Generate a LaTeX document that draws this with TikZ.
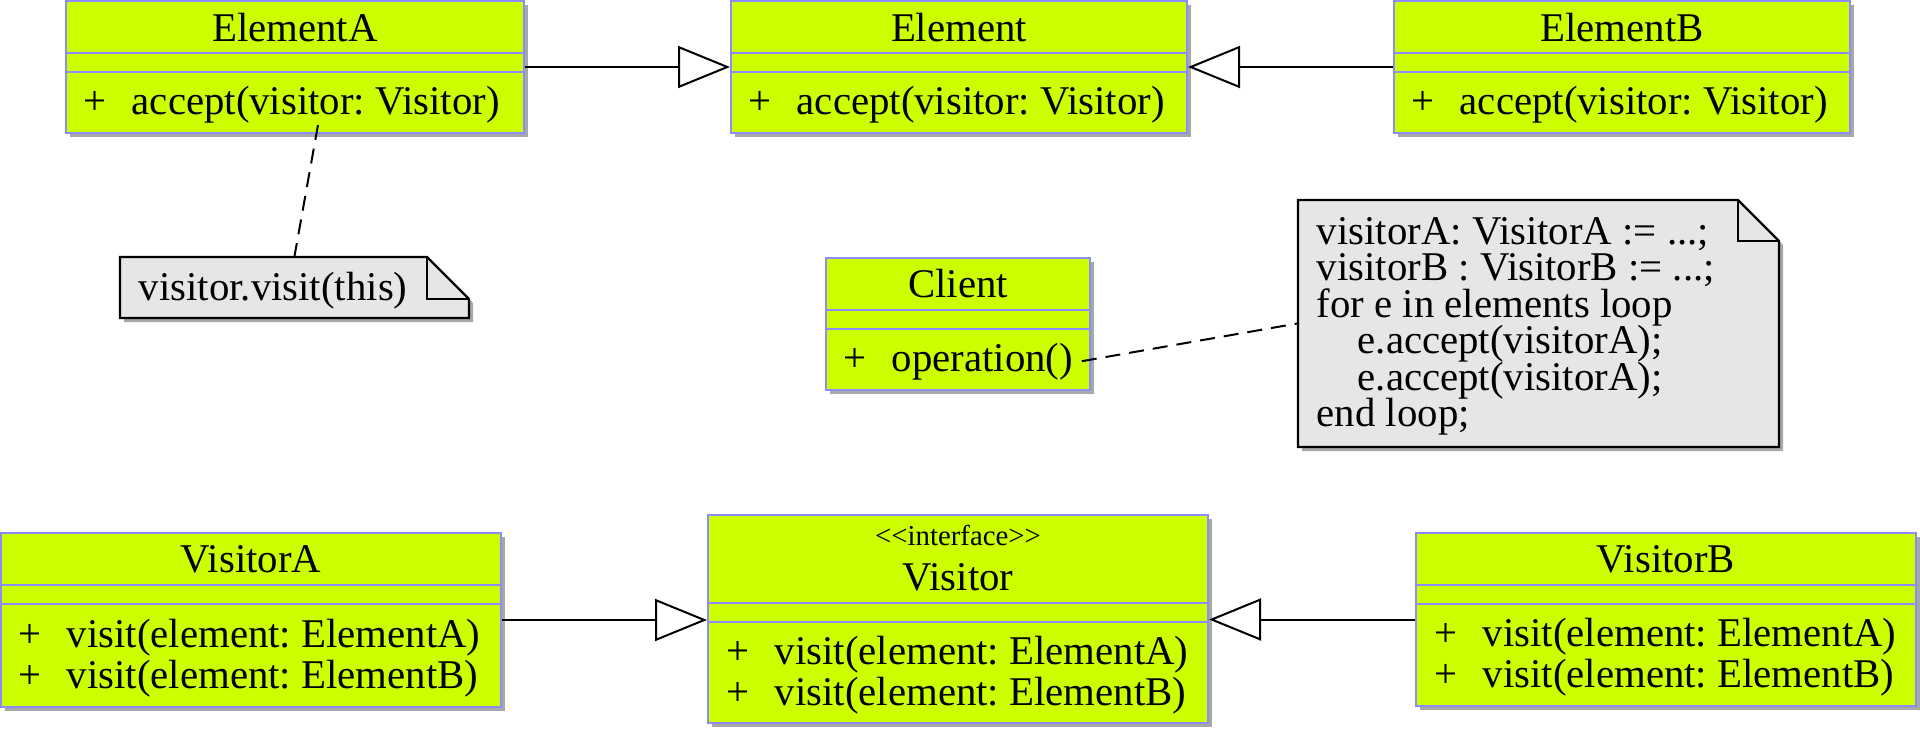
\documentclass[tikz,border=0pt]{standalone}
\usepackage{fontspec}
\setmainfont{Liberation Serif}
\usetikzlibrary{arrows.meta,fit,shadows}
\definecolor{classfill}{HTML}{CCFF00}
\definecolor{classborder}{HTML}{8C8CFF}
\definecolor{notefill}{HTML}{E6E6E6}
\definecolor{shadowgray}{HTML}{A8A8A8}
\frenchspacing
\newcommand\umlclass[7]{%
  \node[classbox, fit={(#2,#3) (#4,#5)}] (#1) {};
  \draw[divider] (#2,#6) -- (#4,#6);
  \draw[divider] (#2,#7) -- (#4,#7);
}
\newcommand\umlnote[6]{%
  \fill[noteshadow] (#2+4,#3+4) -- (#4-#6+4,#3+4) -- (#4+4,#3+#6+4) -- (#4+4,#5+4) -- (#2+4,#5+4) -- cycle;
  \draw[notebody] (#2,#3) -- (#4-#6,#3) -- (#4,#3+#6) -- (#4,#5) -- (#2,#5) -- cycle;
  \draw[notebody, fill=none] (#4-#6,#3) -- (#4-#6,#3+#6) -- (#4,#3+#6);
  \node[notebox, fit={(#2,#3) (#4,#5)}] (#1) {};
}
\begin{document}
\begin{tikzpicture}[x=0.25pt,y=-0.25pt,
  classbox/.style={draw=classborder, fill=classfill, line width=0.5pt, inner sep=0pt,
    drop shadow={shadow xshift=1pt, shadow yshift=-1pt, fill=shadowgray, opacity=1}},
  divider/.style={draw=classborder, line width=0.5pt},
  txt/.style={inner sep=0pt, anchor=base, font=\fontsize{10.2pt}{12pt}\selectfont\frenchspacing},
  ltxt/.style={txt, anchor=base west},
  stereo/.style={inner sep=0pt, anchor=base, font=\fontsize{7.2pt}{8.6pt}\selectfont},
  notebody/.style={draw=black, fill=notefill, line width=0.55pt, line join=miter},
  noteshadow/.style={fill=shadowgray},
  notebox/.style={inner sep=0pt},
  inherit/.style={line width=0.5pt, -{Triangle[open, length=13pt, width=10.5pt, line width=0.5pt]}},
  notelink/.style={line width=0.5pt, dash pattern=on 3.75pt off 2.25pt},
]
\useasboundingbox (0,0) rectangle (1920,729);

% ---- Element classes ----
\umlclass{ElementA}{66}{1}{524}{133}{53}{72}
\node[txt] (ElementAt) at (295,41) {ElementA};
\node[ltxt] (ElementAp) at (83,114) {+};
\node[ltxt] (ElementAm) at (131,114) {accept(visitor: Visitor)};

\umlclass{Element}{731}{1}{1187}{133}{53}{72}
\node[txt] (Elementt) at (959,41) {Element};
\node[ltxt] (Elementp) at (748,114) {+};
\node[ltxt] (Elementm) at (796,114) {accept(visitor: Visitor)};

\umlclass{ElementB}{1394}{1}{1850}{133}{53}{72}
\node[txt] (ElementBt) at (1622,41) {ElementB};
\node[ltxt] (ElementBp) at (1411,114) {+};
\node[ltxt] (ElementBm) at (1459,114) {accept(visitor: Visitor)};

% ---- Client ----
\umlclass{Client}{826}{258}{1090}{390}{310}{329}
\node[txt] (Clientt) at (958,297) {Client};
\node[ltxt] (Clientp) at (843,371) {+};
\node[ltxt] (Clientm) at (891,371) {operation()};

% ---- Visitor classes ----
\umlclass{VisitorA}{1}{533}{501}{707}{585}{604}
\node[txt] (VisitorAt) at (251,572) {VisitorA};
\node[ltxt] (VisitorAp1) at (18,647) {+};
\node[ltxt] (VisitorAm1) at (66,647) {visit(element: ElementA)};
\node[ltxt] (VisitorAp2) at (18,688) {+};
\node[ltxt] (VisitorAm2) at (66,688) {visit(element: ElementB)};

\umlclass{Visitor}{708}{515}{1208}{723}{603}{622}
\node[stereo] (Visitors) at (958,545) {<\kern0pt<interface>\kern0pt>};
\node[txt] (Visitort) at (958,590) {Visitor};
\node[ltxt] (Visitorp1) at (726,664) {+};
\node[ltxt] (Visitorm1) at (774,664) {visit(element: ElementA)};
\node[ltxt] (Visitorp2) at (726,705) {+};
\node[ltxt] (Visitorm2) at (774,705) {visit(element: ElementB)};

\umlclass{VisitorB}{1416}{533}{1916}{706}{585}{604}
\node[txt] (VisitorBt) at (1666,572) {VisitorB};
\node[ltxt] (VisitorBp1) at (1434,646) {+};
\node[ltxt] (VisitorBm1) at (1482,646) {visit(element: ElementA)};
\node[ltxt] (VisitorBp2) at (1434,687) {+};
\node[ltxt] (VisitorBm2) at (1482,687) {visit(element: ElementB)};

% ---- Notes ----
\umlnote{note1}{120}{257}{469}{318}{42}
\node[ltxt] (note1t) at (138,300) {visitor.visit(this)};

\umlnote{note2}{1298}{200}{1779}{447}{41}
\node[ltxt] (note2l1) at (1316,244) {visitorA: VisitorA := ...;};
\node[ltxt] (note2l2) at (1316,280.5) {visitorB : VisitorB := ...;};
\node[ltxt] (note2l3) at (1316,317) {for e in elements loop};
\node[ltxt] (note2l4) at (1357,353.5) {e.accept(visitorA);};
\node[ltxt] (note2l5) at (1357,390) {e.accept(visitorA);};
\node[ltxt] (note2l6) at (1316,426.5) {end loop;};

% ---- Connectors ----
\draw[inherit] (ElementA.east) -- (Element.west);
\draw[inherit] (ElementB.west) -- (Element.east);
\draw[inherit] (VisitorA.east) -- (VisitorA.east -| Visitor.west);
\draw[inherit] (VisitorB.west) -- (VisitorB.west -| Visitor.east);
\coordinate (eaVisitor) at (318,125);
\draw[notelink] (eaVisitor) -- (note1.north);
\draw[notelink] ([xshift=2pt]Clientm.east) -- (note2.west);
\end{tikzpicture}
\end{document}
